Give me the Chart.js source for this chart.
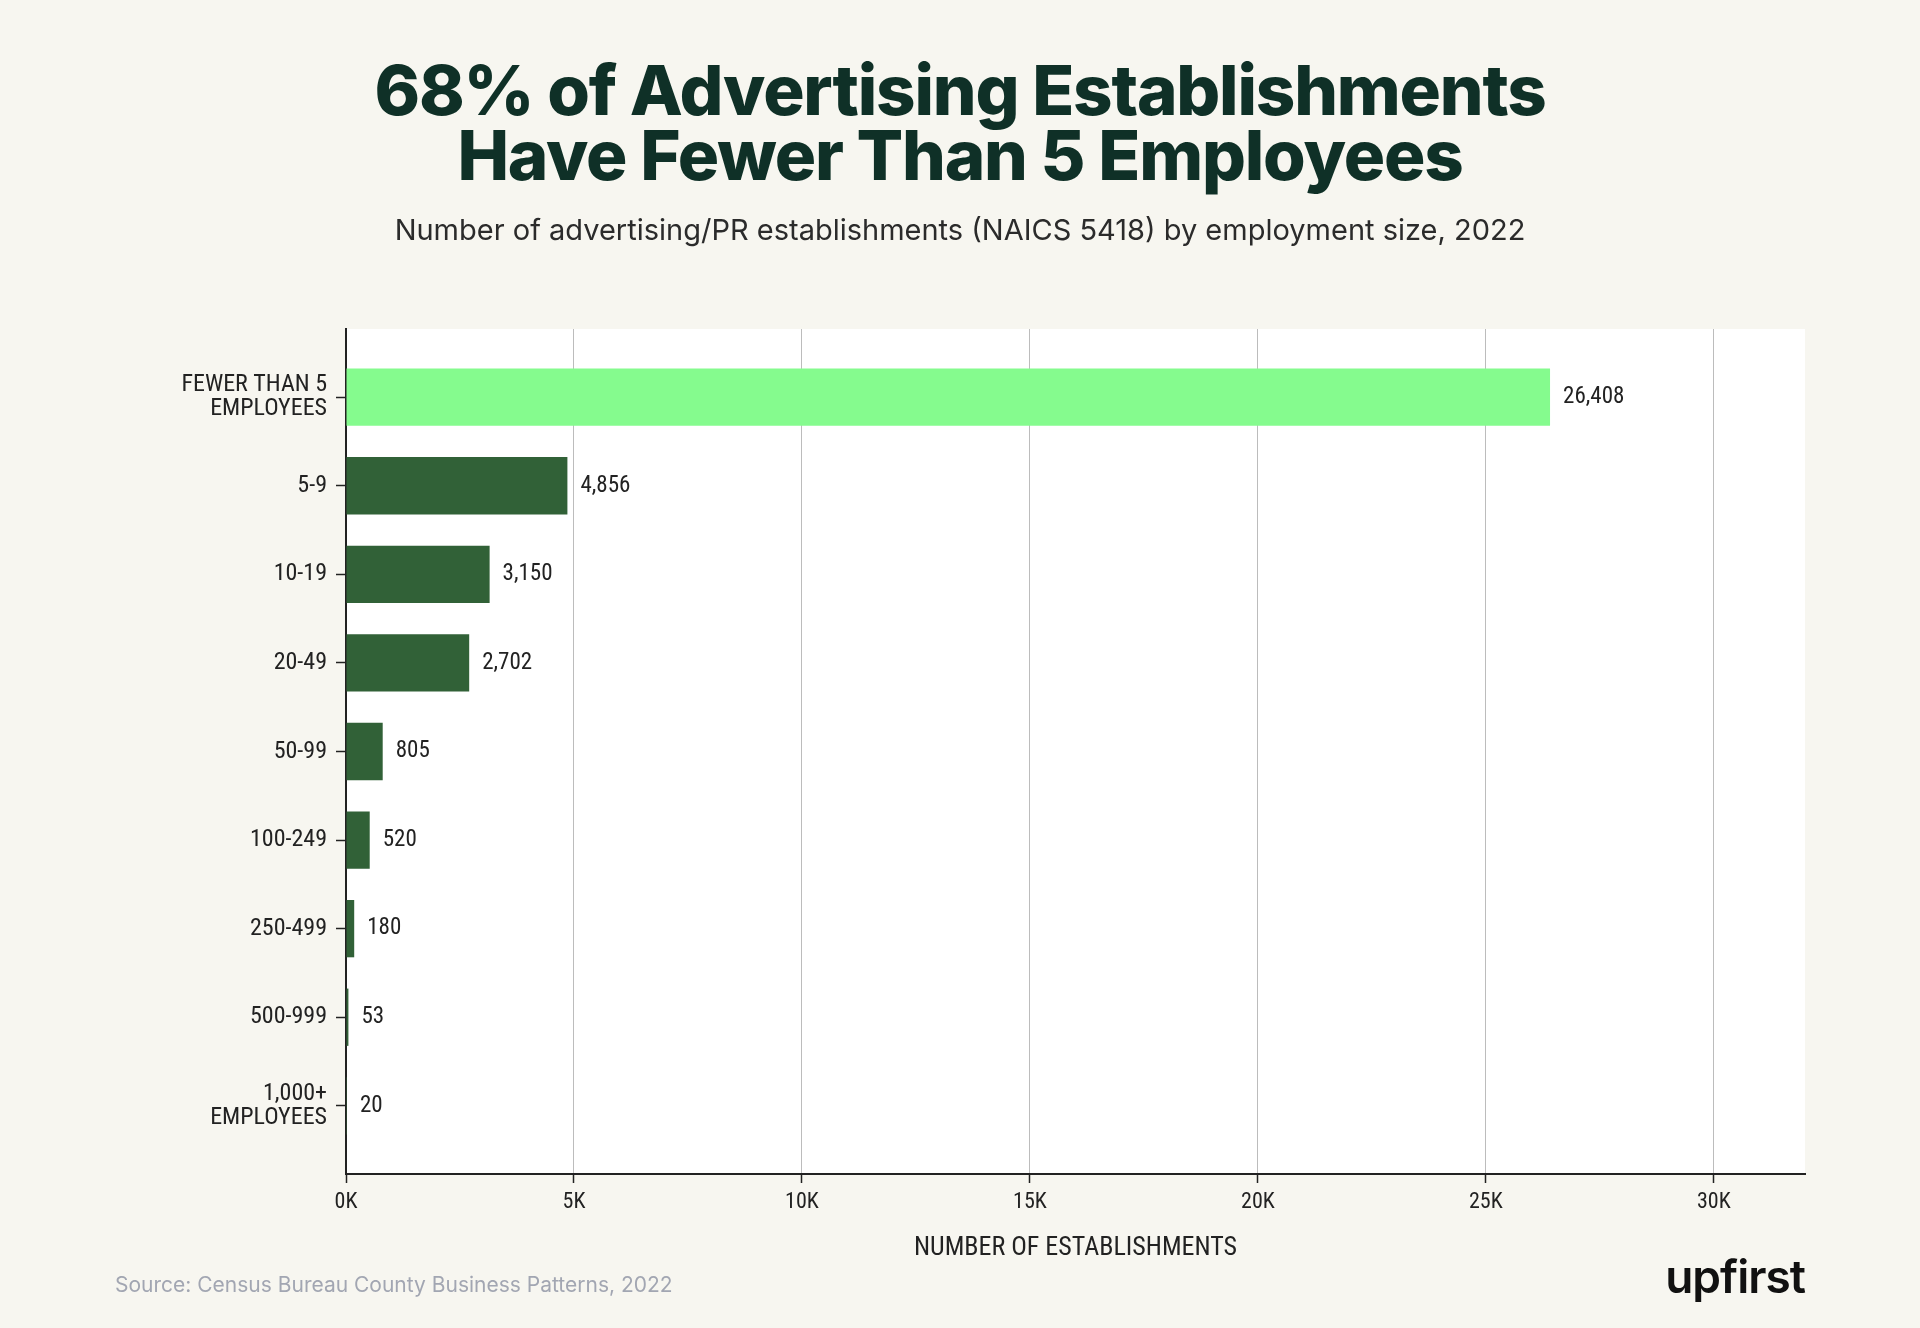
<!DOCTYPE html>
<html>
<head>
<meta charset="utf-8">
<script src="https://cdn.jsdelivr.net/npm/chart.js@4.4.1/dist/chart.umd.min.js"></script>
<style>
  html, body { margin: 0; padding: 0; background: #f7f6f0; }
  #wrap { position: relative; width: 1920px; height: 1328px; overflow: hidden; }
  #chart { position: absolute; left: 0; top: 0; }
  .txt { position: absolute; white-space: nowrap; }
  #title {
    left: 0; width: 1920px; top: 58px; text-align: center;
    font-family: Inter, "Noto Sans", sans-serif; font-weight: 800;
    font-size: 69px; line-height: 65px; color: #0f3027; letter-spacing: -1.2px;
  }
  #subtitle {
    left: 0; width: 1920px; top: 212px; text-align: center;
    font-family: Inter, "Noto Sans", sans-serif; font-size: 29px; color: #2b2b2b;
  }
  #source {
    left: 115px; top: 1272px;
    font-family: Inter, "Noto Sans", sans-serif; font-size: 21px; color: #a2a6b2;
  }
  #logo {
    right: 115px; top: 1248px;
    font-family: Inter, sans-serif; font-weight: 600; font-size: 46px;
    color: #111; letter-spacing: -1px;
  }
</style>
</head>
<body>
<div id="wrap">
  <canvas id="chart" width="1920" height="1328"></canvas>
  <div id="title" class="txt">68% of Advertising Establishments<br>Have Fewer Than 5 Employees</div>
  <div id="subtitle" class="txt">Number of advertising/PR establishments (NAICS 5418) by employment size, 2022</div>
  <div id="source" class="txt">Source: Census Bureau County Business Patterns, 2022</div>
  <div id="logo" class="txt">upfirst</div>
</div>
<script>
// Chart data
const categories = [
  ['FEWER THAN 5', 'EMPLOYEES'], '5-9', '10-19', '20-49', '50-99',
  '100-249', '250-499', '500-999', ['1,000+', 'EMPLOYEES']
];
const establishments = [26408, 4856, 3150, 2702, 805, 520, 180, 53, 20];
const xTicks = [0, 5000, 10000, 15000, 20000, 25000, 30000];

const LIGHT = '#85fb8e';
const DARK = '#316137';
const NARROW = "'Liberation Sans Narrow', 'Roboto Condensed', 'DejaVu Sans Condensed', sans-serif";

// white plot background
const plotBg = {
  id: 'plotBg',
  beforeDraw(chart) {
    const { ctx, chartArea: a } = chart;
    ctx.save();
    ctx.fillStyle = '#ffffff';
    ctx.fillRect(a.left, a.top, a.right - a.left, a.bottom - a.top);
    ctx.restore();
  }
};

// value labels at bar ends
const valueLabels = {
  id: 'valueLabels',
  afterDatasetsDraw(chart) {
    const { ctx } = chart;
    const meta = chart.getDatasetMeta(0);
    ctx.save();
    ctx.font = '23px ' + NARROW;
    ctx.fillStyle = '#222';
    ctx.textAlign = 'left';
    ctx.textBaseline = 'middle';
    meta.data.forEach((bar, i) => {
      ctx.fillText(establishments[i].toLocaleString('en-US'), bar.x + 13, bar.y);
    });
    ctx.restore();
  }
};

new Chart(document.getElementById('chart'), {
  type: 'bar',
  data: {
    datasets: [{
      // y is the row index; the y axis is linear so it can carry extra margin
      data: establishments.map((v, i) => ({ x: v, y: i })),
      backgroundColor: establishments.map((v, i) => i === 0 ? LIGHT : DARK),
      borderWidth: 0,
      categoryPercentage: 0.647,
      barPercentage: 1
    }]
  },
  options: {
    indexAxis: 'y',
    responsive: false,
    animation: false,
    layout: { padding: { top: 329, right: 115, bottom: 64, left: 0 } },
    plugins: {
      legend: { display: false },
      tooltip: { enabled: false }
    },
    scales: {
      x: {
        type: 'linear',
        min: 0,
        max: 32000,
        afterFit(scale) { scale.height = 90; },
        afterBuildTicks(scale) { scale.ticks = xTicks.map(v => ({ value: v })); },
        grid: { color: '#bcbcbc', lineWidth: 1, tickColor: '#222', tickLength: 9, tickWidth: 1.5 },
        border: { color: '#222', width: 2 },
        ticks: {
          padding: 6,
          color: '#222',
          font: { family: NARROW, size: 22 },
          callback: v => (v / 1000) + 'K'
        },
        title: {
          display: true,
          text: 'NUMBER OF ESTABLISHMENTS',
          color: '#222',
          font: { family: NARROW, size: 26 },
          padding: 0
        }
      },
      y: {
        type: 'linear',
        reverse: true,
        offset: false,
        min: -0.77,
        max: categories.length - 1 + 0.77,
        afterFit(scale) { scale.width = 346; },
        afterBuildTicks(scale) { scale.ticks = categories.map((c, i) => ({ value: i })); },
        grid: { offset: false, drawOnChartArea: false, tickColor: '#222', tickLength: 10, tickWidth: 1.5 },
        border: { color: '#222', width: 2 },
        ticks: {
          padding: 9,
          color: '#222',
          font: { family: NARROW, size: 24, lineHeight: 1.02 },
          callback: v => categories[v]
        }
      }
    }
  },
  plugins: [plotBg, valueLabels]
});
</script>
</body>
</html>
